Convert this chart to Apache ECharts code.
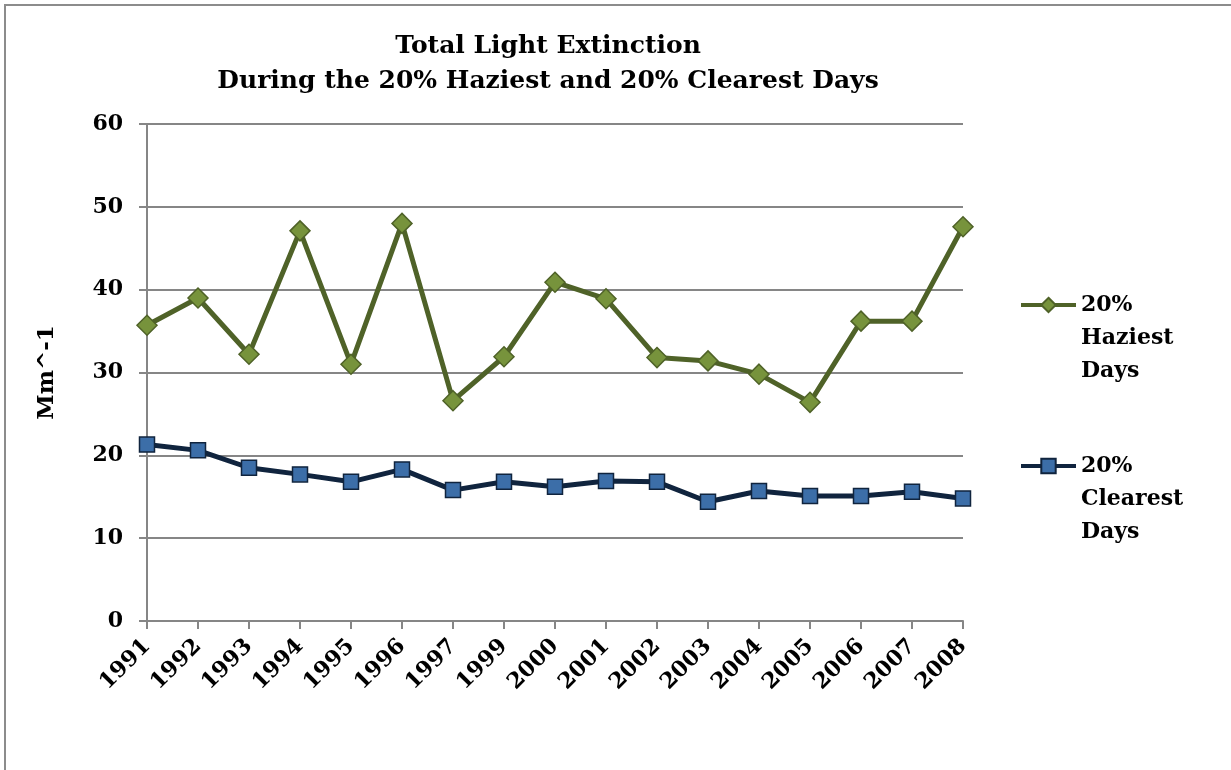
<!DOCTYPE html>
<html>
<head>
<meta charset="utf-8">
<script src="https://cdn.jsdelivr.net/npm/echarts@6/dist/echarts.min.js"></script>
<style>
  html, body { margin: 0; padding: 0; background: #fff; }
  #frame {
    position: absolute; left: 4px; top: 4px; width: 1240px; height: 780px;
    border: 2px solid #8c8c8c; box-sizing: border-box;
  }
  #chart { position: absolute; left: 0; top: 0; width: 1231px; height: 770px; }
</style>
</head>
<body>
<div id="frame"></div>
<div id="chart"></div>
<script>
const years = ['1991', '1992', '1993', '1994', '1995', '1996', '1997', '1999', '2000',
  '2001', '2002', '2003', '2004', '2005', '2006', '2007', '2008']
const haziest = [35.7, 39.0, 32.2, 47.1, 31.0, 48.0, 26.6, 31.9, 40.9,
  38.9, 31.8, 31.4, 29.8, 26.4, 36.2, 36.2, 47.6]
const clearest = [21.3, 20.6, 18.5, 17.7, 16.8, 18.3, 15.8, 16.8, 16.2,
  16.9, 16.8, 14.4, 15.7, 15.1, 15.1, 15.6, 14.8]
const yTicks = [0, 10, 20, 30, 40, 50, 60]

const fontFamily = 'DejaVu Serif'
const LH = 33

const chart = echarts.init(document.getElementById('chart'))

// 图例文字首行与图标对齐：前面补两行空行
const legendBase = {
  orient: 'vertical',
  left: 1019,
  padding: 0,
  itemWidth: 55,
  itemHeight: 18,
  itemGap: 0,
  lineStyle: { width: 4 },
  textStyle: {
    fontFamily,
    fontWeight: 'bold',
    fontSize: 22,
    color: '#000',
    lineHeight: LH,
  },
  formatter: (name) => '\n\n' + name.split(' ').join('\n'),
}

chart.setOption({
  animation: false,
  title: {
    text: 'Total Light Extinction\nDuring the 20% Haziest and 20% Clearest Days',
    left: 543,
    textAlign: 'center',
    top: 24,
    textStyle: {
      fontFamily,
      fontWeight: 'bold',
      fontSize: 25,
      lineHeight: 35,
      color: '#000',
    },
  },
  legend: [
    Object.assign({}, legendBase, { data: ['20% Haziest Days'], top: 305 - 2.5 * LH }),
    Object.assign({}, legendBase, { data: ['20% Clearest Days'], top: 466 - 2.5 * LH }),
  ],
  grid: { left: 147, right: 268, top: 124, bottom: 149 },
  xAxis: {
    type: 'category',
    data: years,
    boundaryGap: false,
    axisLine: { lineStyle: { color: '#868686', width: 2 } },
    axisTick: { show: true, length: 8, lineStyle: { color: '#868686', width: 2 } },
    axisLabel: {
      interval: 0,
      rotate: 45,
      margin: 22,
      fontFamily,
      fontWeight: 'bold',
      fontSize: 22,
      color: '#000',
    },
  },
  yAxis: {
    type: 'value',
    min: 0,
    max: 60,
    interval: 10,
    name: 'Mm^-1',
    nameLocation: 'middle',
    nameGap: 88,
    nameTextStyle: {
      fontFamily,
      fontWeight: 'bold',
      fontSize: 23,
      color: '#000',
    },
    axisLine: { show: true, lineStyle: { color: '#868686', width: 2 } },
    axisTick: { show: true, length: 8, lineStyle: { color: '#868686', width: 2 } },
    splitLine: { lineStyle: { color: '#868686', width: 2 } },
    axisLabel: {
      margin: 24,
      fontFamily,
      fontWeight: 'bold',
      fontSize: 22,
      color: '#000',
      formatter: (v) => (yTicks.includes(v) ? String(v) : ''),
    },
  },
  series: [
    {
      name: '20% Haziest Days',
      type: 'line',
      data: haziest,
      symbol: 'diamond',
      symbolSize: 20,
      lineStyle: { color: '#4f6228', width: 5 },
      itemStyle: { color: '#77933c', borderColor: '#4f6228', borderWidth: 1.5 },
      z: 3,
    },
    {
      name: '20% Clearest Days',
      type: 'line',
      data: clearest,
      symbol: 'rect',
      symbolSize: 15,
      lineStyle: { color: '#10243e', width: 5 },
      itemStyle: { color: '#3c6ea8', borderColor: '#10243e', borderWidth: 1.5 },
      z: 2,
    },
  ],
})
</script>
</body>
</html>
